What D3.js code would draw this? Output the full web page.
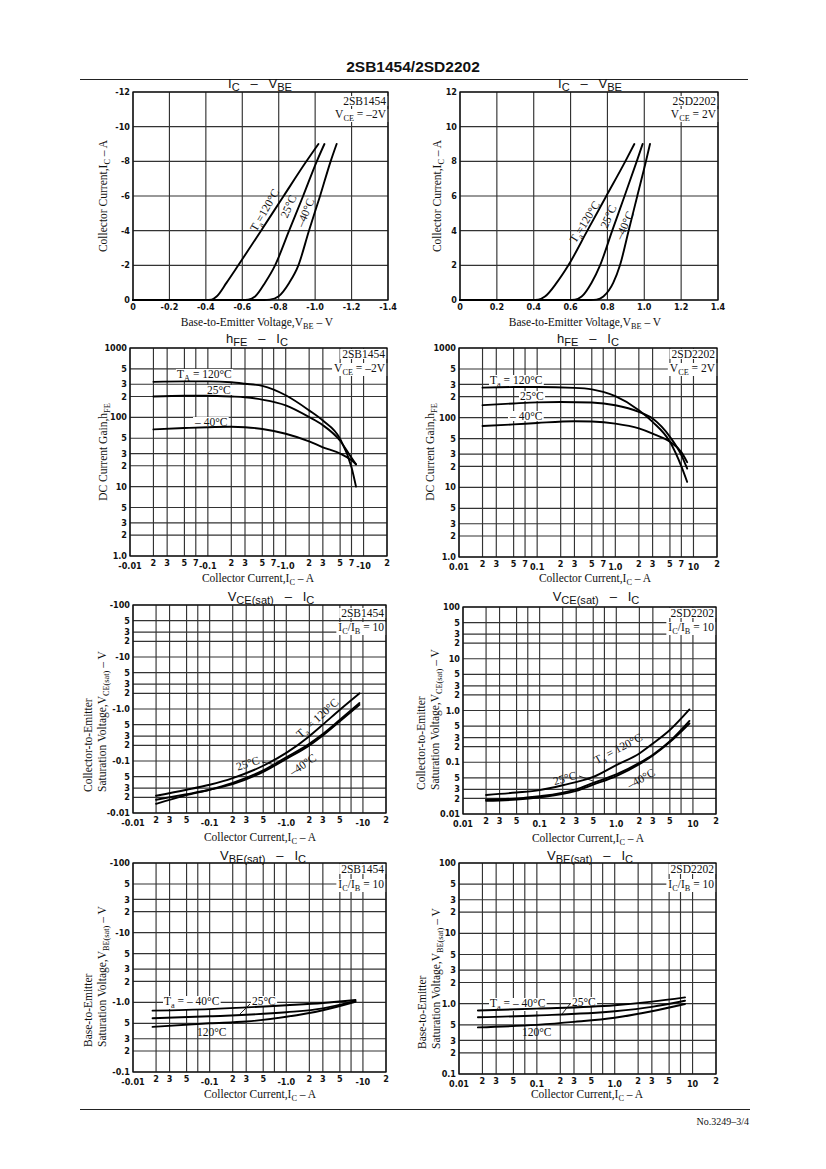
<!DOCTYPE html>
<html><head><meta charset="utf-8">
<script src="https://cdn.jsdelivr.net/npm/d3@7"></script>
<style>
html,body{margin:0;padding:0;background:#fff;}
svg{display:block;}
.tl{font-family:"Liberation Sans Narrow","DejaVu Sans Condensed","Liberation Sans",Arial,sans-serif;font-weight:bold;font-size:9px;fill:#111;}
.serif{font-family:"Liberation Serif","Times New Roman",serif;fill:#111;}
.sans{font-family:"Liberation Sans",Arial,sans-serif;fill:#111;}
</style></head><body>
<svg id="page" width="826" height="1169"></svg>
<script>
// ---------- DATA ----------
// IC - VBE  (|VBE| V, |IC| A)
const sbVbeT120 = [[0,0],[0.40,0],[0.431,0.02],[0.459,0.2],[0.514,1],[0.578,2],[0.703,4],[0.827,6],[0.952,8],[1.018,9]];
const sbVbeT25  = [[0,0],[0.60,0],[0.633,0.02],[0.670,0.2],[0.725,1],[0.780,2],[0.857,4],[0.934,6],[1.009,8],[1.051,9]];
const sbVbeTm40 = [[0,0],[0.72,0],[0.752,0.02],[0.798,0.2],[0.858,1],[0.908,2],[0.966,4],[1.027,6],[1.085,8],[1.118,9]];
const sdVbeT120 = [[0,0],[0.39,0],[0.425,0.02],[0.461,0.2],[0.525,1],[0.588,2],[0.691,4],[0.794,6],[0.897,8],[0.946,9]];
const sdVbeT25  = [[0,0],[0.59,0],[0.624,0.02],[0.660,0.2],[0.714,1],[0.760,2],[0.826,4],[0.893,6],[0.959,8],[0.991,9]];
const sdVbeTm40 = [[0,0],[0.71,0],[0.741,0.02],[0.778,0.2],[0.832,1],[0.868,2],[0.915,4],[0.962,6],[1.009,8],[1.031,9]];
// hFE - IC
const sbHfeT120 = [[0.02,325],[0.05,330],[0.1,330],[0.2,320],[0.3,305],[0.5,284],[1,208],[2,126],[3,90],[5,49],[7,19],[8,10]];
const sbHfeT25  = [[0.02,200],[0.05,205],[0.1,205],[0.2,200],[0.3,195],[0.5,180],[1,149],[2,101],[3,77],[5,46],[7,26],[8,21]];
const sbHfeTm40 = [[0.02,67],[0.05,70],[0.1,72],[0.2,73],[0.3,72],[0.5,68],[1,58],[2,45],[3,37],[5,30],[7,24],[8,21]];
const sdHfeT120 = [[0.02,270],[0.05,275],[0.1,275],[0.3,268],[0.5,255],[0.7,234],[1,203],[2,128],[3,87],[5,45],[7,20],[8.3,12]];
const sdHfeT25  = [[0.02,151],[0.05,160],[0.1,166],[0.2,168],[0.5,165],[1,151],[2,121],[3,97],[5,53],[7,29],[8.3,18.6]];
const sdHfeTm40 = [[0.02,76],[0.05,80],[0.1,84],[0.3,89],[0.5,88],[1,82],[2,70],[3,59],[5,45],[7,32],[8.3,23]];
// VCE(sat) - IC
const sbVceT120 = [[0.02,0.0215],[0.05,0.028],[0.1,0.035],[0.2,0.047],[0.5,0.081],[1,0.143],[2,0.30],[3,0.50],[5,0.97],[9,2.0]];
const sbVceT25  = [[0.02,0.015],[0.05,0.022],[0.1,0.028],[0.2,0.038],[0.5,0.066],[1,0.118],[2,0.215],[3,0.33],[5,0.62],[9,1.3]];
const sbVceTm40 = [[0.02,0.018],[0.05,0.023],[0.1,0.028],[0.2,0.036],[0.5,0.062],[1,0.11],[2,0.2],[3,0.31],[5,0.58],[9,1.2]];
const sdVceT120 = [[0.02,0.0233],[0.05,0.026],[0.1,0.029],[0.2,0.036],[0.5,0.052],[1,0.088],[2,0.148],[3,0.23],[5,0.42],[9,1.05]];
const sdVceT25  = [[0.02,0.019],[0.05,0.020],[0.1,0.022],[0.3,0.030],[0.5,0.040],[1,0.058],[2,0.097],[3,0.14],[5,0.255],[9,0.63]];
const sdVceTm40 = [[0.02,0.018],[0.05,0.019],[0.1,0.021],[0.3,0.028],[0.5,0.037],[1,0.054],[2,0.092],[3,0.135],[5,0.245],[9,0.56]];
// VBE(sat) - IC
const sbVbsTm40 = [[0.018,0.76],[0.1,0.80],[1,0.91],[3,0.98],[8,1.08]];
const sbVbsT25  = [[0.018,0.59],[0.1,0.63],[1,0.72],[3,0.82],[8,1.05]];
const sbVbsT120 = [[0.018,0.445],[0.1,0.50],[0.3,0.53],[1,0.62],[3,0.77],[8,1.02]];
const sdVbsTm40 = [[0.0175,0.80],[0.1,0.85],[1,0.95],[3,1.07],[8,1.23]];
const sdVbsT25  = [[0.0175,0.64],[0.1,0.68],[1,0.78],[3,0.90],[8,1.10]];
const sdVbsT120 = [[0.0175,0.46],[0.1,0.50],[0.3,0.55],[1,0.63],[3,0.78],[8,0.99]];

// ---------- TICKS ----------
const linX = [0,0.2,0.4,0.6,0.8,1.0,1.2,1.4];
const linXLabelsSB = ["0","-0.2","-0.4","-0.6","-0.8","-1.0","-1.2","-1.4"];
const linXLabelsSD = ["0","0.2","0.4","0.6","0.8","1.0","1.2","1.4"];
const linY = [0,2,4,6,8,10,12];
const linYLabelsSB = ["0","-2","-4","-6","-8","-10","-12"];
const linYLabelsSD = ["0","2","4","6","8","10","12"];
const logXGrid = [0.01,0.02,0.03,0.05,0.07,0.1,0.2,0.3,0.5,0.7,1,2,3,5,7,10,20];
const hfeXTicks = [0.01,0.02,0.03,0.05,0.07,0.1,0.2,0.3,0.5,0.7,1,2,3,5,7,10,20];
const hfeXLabelsSB = ["-0.01","2","3","5","7","-0.1","2","3","5","7","-1.0","2","3","5","7","-10","2"];
const hfeXLabelsSD = ["0.01","2","3","5","7","0.1","2","3","5","7","1.0","2","3","5","7","10","2"];
const satXTicks = [0.01,0.02,0.03,0.05,0.1,0.2,0.3,0.5,1,2,3,5,10,20];
const satXLabelsSB = ["-0.01","2","3","5","-0.1","2","3","5","-1.0","2","3","5","-10","2"];
const satXLabelsSD = ["0.01","2","3","5","0.1","2","3","5","1.0","2","3","5","10","2"];
const hfeY = [1,2,3,5,10,20,30,50,100,200,300,500,1000];
const hfeYLabels = ["1.0","2","3","5","10","2","3","5","100","2","3","5","1000"];
const vceY = [0.01,0.02,0.03,0.05,0.1,0.2,0.3,0.5,1,2,3,5,10,20,30,50,100];
const vceYLabelsSB = ["-0.01","2","3","5","-0.1","2","3","5","-1.0","2","3","5","-10","2","3","5","-100"];
const vceYLabelsSD = ["0.01","2","3","5","0.1","2","3","5","1.0","2","3","5","10","2","3","5","100"];
const vbsY = [0.1,0.2,0.3,0.5,1,2,3,5,10,20,30,50,100];
const vbsYLabelsSB = ["-0.1","2","3","5","-1.0","2","3","5","-10","2","3","5","-100"];
const vbsYLabelsSD = ["0.1","2","3","5","1.0","2","3","5","10","2","3","5","100"];

// ---------- HELPERS ----------
const svg = d3.select("#page");
const NB = "\u00a0";

function rich(g, x, y, parts, cls, size, anchor, rotate, subDrop, subScale) {
  const drop = subDrop == null ? size*0.3 : subDrop;
  const sc = subScale || 0.75;
  const t = g.append("text").attr("class", cls).attr("font-size", size).attr("text-anchor", anchor || "start");
  if (rotate != null) t.attr("transform", `translate(${x},${y}) rotate(${rotate})`);
  else t.attr("x", x).attr("y", y);
  let shift = 0;
  parts.forEach(p => {
    const s = Array.isArray(p) ? p[0] : p;
    const sub = Array.isArray(p) && p[1] === "sub";
    const target = sub ? drop : 0;
    const ts = t.append("tspan").text(s).attr("dy", target - shift);
    if (sub) ts.attr("font-size", size * sc);
    shift = target;
  });
  return t;
}
function whiteBg(c, t, pad) {
  const b = t.node().getBBox();
  const p = pad == null ? 1 : pad;
  c.bg.append("rect").attr("x", b.x - p).attr("y", b.y + 1).attr("width", b.width + 2*p).attr("height", b.height - 2).attr("fill", "#fff");
}
function isDecade(v) { const l = Math.log10(v); return Math.abs(l - Math.round(l)) < 1e-9; }

function drawChart(o) {
  const g = svg.append("g");
  const x = (o.xLog ? d3.scaleLog() : d3.scaleLinear()).domain(o.xDomain).range([o.left, o.right]);
  const y = (o.yLog ? d3.scaleLog() : d3.scaleLinear()).domain(o.yDomain).range([o.bottom, o.top]);
  const grid = g.append("g");
  grid.selectAll(".vg").data(o.xGrid).join("line")
    .attr("x1", d => x(d)).attr("x2", d => x(d)).attr("y1", o.top).attr("y2", o.bottom)
    .attr("stroke", "#333").attr("stroke-width", 1.15);
  grid.selectAll(".hg").data(o.yGrid).join("line")
    .attr("y1", d => y(d)).attr("y2", d => y(d)).attr("x1", o.left).attr("x2", o.right)
    .attr("stroke", "#333").attr("stroke-width", 1.15);
  const bg = g.append("g");
  g.append("rect").attr("x", o.left).attr("y", o.top).attr("width", o.right - o.left).attr("height", o.bottom - o.top)
    .attr("fill", "none").attr("stroke", "#111").attr("stroke-width", 1.3);
  g.selectAll(".xl").data(o.xTicks).join("text").attr("class", "tl")
    .attr("x", d => x(d)).attr("y", d => o.bottom + 10 + (o.xDecadeDrop && isDecade(d) ? 3 : 0))
    .attr("text-anchor", "middle").text((d, i) => o.xLabels[i]);
  g.selectAll(".yl").data(o.yTicks).join("text").attr("class", "tl")
    .attr("x", o.left - 3).attr("y", d => y(d)).attr("dy", "0.35em")
    .attr("text-anchor", "end").text((d, i) => o.yLabels[i]);
  const line = d3.line().x(d => x(d[0])).y(d => y(d[1])).curve(d3.curveMonotoneX);
  g.append("g").selectAll("path").data(o.series).join("path")
    .attr("d", d => line(d)).attr("fill", "none").attr("stroke", "#000").attr("stroke-width", 1.9)
    .attr("stroke-linejoin", "round").attr("stroke-linecap", "round");
  const lab = g.append("g");
  return { g: lab, bg, x, y };
}

function annotate(c, right, b1, b2, part, second) {
  const t1 = rich(c.g, right, b1, [part], "serif", 11.5, "end");
  whiteBg(c, t1, 2);
  const t2 = rich(c.g, right, b2, second, "serif", 11.5, "end", null, 3, 0.72);
  whiteBg(c, t2, 2);
}
function label(c, x, y, parts, rot, bg) {
  const t = rich(c.g, x, y, parts, "serif", 11.5, rot != null ? "middle" : "start", rot, 3, 0.72);
  if (bg) whiteBg(c, t, 1);
  return t;
}
function leader(c, x1, y1, x2, y2) {
  c.g.append("line").attr("x1", x1).attr("y1", y1).attr("x2", x2).attr("y2", y2).attr("stroke", "#111").attr("stroke-width", 0.9);
}
function yTitle(x, y, parts, anchor) { rich(svg, x, y, parts, "serif", 11.5, anchor || "middle", -90, 3, 0.72); }
function xTitle(x, y, parts) { rich(svg, x, y, parts, "serif", 11.5, "middle", null, 3, 0.72); }
function cTitle(x, y, parts) { rich(svg, x, y, parts, "sans", 13, "middle", null, 2.5, 0.85); }

// ---------- HEADER / FOOTER ----------
svg.append("text").attr("class", "sans").attr("x", 413).attr("y", 72).attr("text-anchor", "middle")
  .attr("font-size", 15.5).attr("font-weight", "bold").text("2SB1454/2SD2202");
svg.append("line").attr("x1", 80).attr("x2", 748).attr("y1", 79.5).attr("y2", 79.5).attr("stroke", "#222").attr("stroke-width", 1);
svg.append("line").attr("x1", 80).attr("x2", 750).attr("y1", 1109.5).attr("y2", 1109.5).attr("stroke", "#222").attr("stroke-width", 1);
svg.append("text").attr("class", "serif").attr("x", 749).attr("y", 1125).attr("text-anchor", "end")
  .attr("font-size", 10).text("No.3249–3/4");

const SP = NB + NB + NB + "–" + NB + NB + NB;

// ---------- CHART 1 : IC-VBE 2SB1454 ----------
{
  const c = drawChart({ left: 133, right: 388, top: 92, bottom: 300, xDomain: [0, 1.4], yDomain: [0, 12],
    xGrid: linX, yGrid: linY, xTicks: linX, xLabels: linXLabelsSB, yTicks: linY, yLabels: linYLabelsSB,
    series: [sbVbeT120, sbVbeT25, sbVbeTm40] });
  cTitle(260, 88, ["I", ["C", "sub"], SP, "V", ["BE", "sub"]]);
  annotate(c, 386, 105, 118, "2SB1454", ["V", ["CE", "sub"], " = –2V"]);
  label(c, 268, 212, ["T", ["a", "sub"], "=120°C"], -60);
  label(c, 292, 208, ["25°C"], -66);
  label(c, 309, 214, ["–40°C"], -68);
  yTitle(107, 196, ["Collector Current,I", ["C", "sub"], " – A"]);
  xTitle(257, 326, ["Base-to-Emitter Voltage,V", ["BE", "sub"], " – V"]);
}
// ---------- CHART 2 : IC-VBE 2SD2202 ----------
{
  const c = drawChart({ left: 460, right: 718, top: 92, bottom: 300, xDomain: [0, 1.4], yDomain: [0, 12],
    xGrid: linX, yGrid: linY, xTicks: linX, xLabels: linXLabelsSD, yTicks: linY, yLabels: linYLabelsSD,
    series: [sdVbeT120, sdVbeT25, sdVbeTm40] });
  cTitle(590, 88, ["I", ["C", "sub"], SP, "V", ["BE", "sub"]]);
  annotate(c, 716, 105, 118, "2SD2202", ["V", ["CE", "sub"], " = 2V"]);
  label(c, 588, 224, ["T", ["a", "sub"], "=120°C"], -58);
  label(c, 612, 218, ["25°C"], -67);
  label(c, 628, 227, ["–40°C"], -66);
  yTitle(441, 196, ["Collector Current,I", ["C", "sub"], " – A"]);
  xTitle(585, 326, ["Base-to-Emitter Voltage,V", ["BE", "sub"], " – V"]);
}
// ---------- CHART 3 : hFE-IC 2SB1454 ----------
{
  const c = drawChart({ left: 130, right: 387, top: 348, bottom: 556, xLog: true, yLog: true,
    xDomain: [0.01, 20], yDomain: [1, 1000], xGrid: logXGrid, yGrid: hfeY,
    xTicks: hfeXTicks, xLabels: hfeXLabelsSB, xDecadeDrop: true, yTicks: hfeY, yLabels: hfeYLabels,
    series: [sbHfeT120, sbHfeT25, sbHfeTm40] });
  cTitle(257, 343, ["h", ["FE", "sub"], SP, "I", ["C", "sub"]]);
  annotate(c, 385, 358, 372, "2SB1454", ["V", ["CE", "sub"], " = –2V"]);
  label(c, 177, 378, ["T", ["A", "sub"], " = 120°C"], null, true);
  label(c, 207, 394, ["25°C"], null, true);
  label(c, 195, 426, ["– 40°C"], null, true);
  yTitle(107, 452, ["DC Current Gain,h", ["FE", "sub"]]);
  xTitle(258, 582, ["Collector Current,I", ["C", "sub"], " – A"]);
}
// ---------- CHART 4 : hFE-IC 2SD2202 ----------
{
  const c = drawChart({ left: 459, right: 717, top: 348, bottom: 557, xLog: true, yLog: true,
    xDomain: [0.01, 20], yDomain: [1, 1000], xGrid: logXGrid, yGrid: hfeY,
    xTicks: hfeXTicks, xLabels: hfeXLabelsSD, xDecadeDrop: true, yTicks: hfeY, yLabels: hfeYLabels,
    series: [sdHfeT120, sdHfeT25, sdHfeTm40] });
  cTitle(588, 343, ["h", ["FE", "sub"], SP, "I", ["C", "sub"]]);
  annotate(c, 715, 358, 372, "2SD2202", ["V", ["CE", "sub"], " = 2V"]);
  label(c, 490, 384, ["T", ["a", "sub"], " = 120°C"], null, true);
  label(c, 520, 400, ["25°C"], null, true);
  label(c, 510, 420, ["– 40°C"], null, true);
  yTitle(434, 452, ["DC Current Gain,h", ["FE", "sub"]]);
  xTitle(595, 582, ["Collector Current,I", ["C", "sub"], " – A"]);
}
// ---------- CHART 5 : VCE(sat)-IC 2SB1454 ----------
{
  const c = drawChart({ left: 133, right: 386, top: 605, bottom: 813, xLog: true, yLog: true,
    xDomain: [0.01, 20], yDomain: [0.01, 100], xGrid: logXGrid, yGrid: vceY,
    xTicks: satXTicks, xLabels: satXLabelsSB, xDecadeDrop: true, yTicks: vceY, yLabels: vceYLabelsSB,
    series: [sbVceT120, sbVceT25, sbVceTm40] });
  cTitle(271, 601, ["V", ["CE(sat)", "sub"], SP, "I", ["C", "sub"]]);
  annotate(c, 384, 617, 631, "2SB1454", ["I", ["C", "sub"], "/I", ["B", "sub"], " = 10"]);
  label(c, 249, 767, ["25°C"], -18);
  leader(c, 262, 762, 276, 765);
  label(c, 320, 721, ["T", ["a", "sub"], " = 120°C"], -42);
  label(c, 305, 768, ["–40°C"], -34);
  yTitle(92, 792, ["Collector-to-Emitter"], "start");
  yTitle(106, 792, ["Saturation Voltage,V", ["CE(sat)", "sub"], " – V"], "start");
  xTitle(260, 841, ["Collector Current,I", ["C", "sub"], " – A"]);
}
// ---------- CHART 6 : VCE(sat)-IC 2SD2202 ----------
{
  const c = drawChart({ left: 463, right: 716, top: 607, bottom: 814, xLog: true, yLog: true,
    xDomain: [0.01, 20], yDomain: [0.01, 100], xGrid: logXGrid, yGrid: vceY,
    xTicks: satXTicks, xLabels: satXLabelsSD, xDecadeDrop: true, yTicks: vceY, yLabels: vceYLabelsSD,
    series: [sdVceT120, sdVceT25, sdVceTm40] });
  cTitle(596, 601, ["V", ["CE(sat)", "sub"], SP, "I", ["C", "sub"]]);
  annotate(c, 714, 617, 631, "2SD2202", ["I", ["C", "sub"], "/I", ["B", "sub"], " = 10"]);
  label(c, 566, 782, ["25°C"], -16);
  leader(c, 579, 776, 593, 781);
  label(c, 620, 752, ["T", ["a", "sub"], " = 120°C"], -28);
  label(c, 643, 782, ["–40°C"], -29);
  yTitle(425, 790, ["Collector-to-Emitter"], "start");
  yTitle(439, 790, ["Saturation Voltage,V", ["CE(sat)", "sub"], " – V"], "start");
  xTitle(588, 842, ["Collector Current,I", ["C", "sub"], " – A"]);
}
// ---------- CHART 7 : VBE(sat)-IC 2SB1454 ----------
{
  const c = drawChart({ left: 133, right: 386, top: 863, bottom: 1072, xLog: true, yLog: true,
    xDomain: [0.01, 20], yDomain: [0.1, 100], xGrid: logXGrid, yGrid: vbsY,
    xTicks: satXTicks, xLabels: satXLabelsSB, xDecadeDrop: true, yTicks: vbsY, yLabels: vbsYLabelsSB,
    series: [sbVbsTm40, sbVbsT25, sbVbsT120] });
  cTitle(263, 860, ["V", ["BE(sat)", "sub"], SP, "I", ["C", "sub"]]);
  annotate(c, 384, 873, 888, "2SB1454", ["I", ["C", "sub"], "/I", ["B", "sub"], " = 10"]);
  label(c, 164, 1005, ["T", ["a", "sub"], " = – 40°C"], null, true);
  label(c, 252, 1005, ["25°C"], null, true);
  leader(c, 250, 1004, 240, 1014);
  label(c, 197, 1036, ["120°C"], null, false);
  yTitle(92, 1047, ["Base-to-Emitter"], "start");
  yTitle(106, 1047, ["Saturation Voltage,V", ["BE(sat)", "sub"], " – V"], "start");
  xTitle(260, 1098, ["Collector Current,I", ["C", "sub"], " – A"]);
}
// ---------- CHART 8 : VBE(sat)-IC 2SD2202 ----------
{
  const c = drawChart({ left: 459, right: 716, top: 863, bottom: 1074, xLog: true, yLog: true,
    xDomain: [0.01, 20], yDomain: [0.1, 100], xGrid: logXGrid, yGrid: vbsY,
    xTicks: satXTicks, xLabels: satXLabelsSD, xDecadeDrop: true, yTicks: vbsY, yLabels: vbsYLabelsSD,
    series: [sdVbsTm40, sdVbsT25, sdVbsT120] });
  cTitle(590, 860, ["V", ["BE(sat)", "sub"], SP, "I", ["C", "sub"]]);
  annotate(c, 714, 873, 888, "2SD2202", ["I", ["C", "sub"], "/I", ["B", "sub"], " = 10"]);
  label(c, 490, 1007, ["T", ["a", "sub"], " = – 40°C"], null, true);
  label(c, 572, 1006, ["25°C"], null, true);
  leader(c, 570, 1004, 562, 1014);
  label(c, 522, 1036, ["120°C"], null, false);
  yTitle(426, 1049, ["Base-to-Emitter"], "start");
  yTitle(440, 1049, ["Saturation Voltage,V", ["BE(sat)", "sub"], " – V"], "start");
  xTitle(587, 1098, ["Collector Current,I", ["C", "sub"], " – A"]);
}
</script></body></html>
